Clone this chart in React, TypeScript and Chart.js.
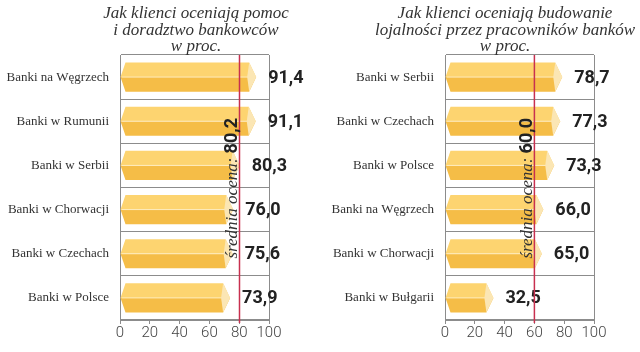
import React, { useEffect, useRef } from "react";
import { Chart, registerables } from "chart.js";

Chart.register(...registerables);

const leftTitle = ["Jak klienci oceniają pomoc", "i doradztwo bankowców", "w proc."];
const leftCategories = [
  "Banki na Węgrzech",
  "Banki w Rumunii",
  "Banki w Serbii",
  "Banki w Chorwacji",
  "Banki w Czechach",
  "Banki w Polsce",
];
const leftValues = [91.4, 91.1, 80.3, 76.0, 75.6, 73.9];
const leftAverage = 80.2;

const rightTitle = ["Jak klienci oceniają budowanie", "lojalności przez pracowników banków", "w proc."];
const rightCategories = [
  "Banki w Serbii",
  "Banki w Czechach",
  "Banki w Polsce",
  "Banki na Węgrzech",
  "Banki w Chorwacji",
  "Banki w Bułgarii",
];
const rightValues = [78.7, 77.3, 73.3, 66.0, 65.0, 32.5];
const rightAverage = 60.0;

const xMin = 0;
const xMax = 100;
const xStep = 20;
const averageLabel = "średnia ocena: ";

const fmt = (v: number) => v.toFixed(1).replace(".", ",");

const GRID = "#8c8c8c";

function makePlugin(avg: number, titleLines: string[], titleCenter: number) {
  return {
    id: "prism",
    afterDatasetsDraw(chart: any) {
      const ctx = chart.ctx as CanvasRenderingContext2D;
      const meta = chart.getDatasetMeta(0);
      const ds = chart.data.datasets[0].data as number[];
      const area = chart.chartArea;
      ctx.save();
      meta.data.forEach((el: any, i: number) => {
        const { x, y, base, height } = el.getProps(["x", "y", "base", "height"], true);
        const left = base;
        const right = x;
        const h = height;
        const top = y - h / 2;
        const bot = y + h / 2;
        const dl = 5;
        const dr = 7;
        ctx.beginPath();
        ctx.moveTo(left, y);
        ctx.lineTo(left + dl, top);
        ctx.lineTo(right - dr, top);
        ctx.lineTo(right, y);
        ctx.closePath();
        ctx.fillStyle = "#fdd470";
        ctx.fill();
        ctx.beginPath();
        ctx.moveTo(left, y);
        ctx.lineTo(right, y);
        ctx.lineTo(right - dr, bot);
        ctx.lineTo(left + dl, bot);
        ctx.closePath();
        ctx.fillStyle = "#f5bd47";
        ctx.fill();
        ctx.beginPath();
        ctx.moveTo(left + 1, y);
        ctx.lineTo(right - 1, y);
        ctx.strokeStyle = "rgba(255,240,200,0.9)";
        ctx.lineWidth = 1;
        ctx.stroke();
        ctx.beginPath();
        ctx.moveTo(right - dr, top);
        ctx.lineTo(right, y);
        ctx.lineTo(right - dr, bot);
        ctx.lineTo(right - dr - 2, y);
        ctx.closePath();
        ctx.fillStyle = "#fbe6b4";
        ctx.fill();
        ctx.fillStyle = "#222";
        ctx.font = "bold 18px Roboto";
        ctx.textAlign = "left";
        ctx.textBaseline = "middle";
        ctx.fillText(fmt(ds[i]), right + 12, y + 1);
      });

      const ax = chart.scales.x.getPixelForValue(avg);
      ctx.beginPath();
      ctx.moveTo(ax, area.top);
      ctx.lineTo(ax, area.bottom + 3);
      ctx.strokeStyle = "#c8304f";
      ctx.lineWidth = 1.5;
      ctx.stroke();

      ctx.save();
      ctx.font = "italic 17px 'Liberation Serif'";
      const w1 = ctx.measureText(averageLabel).width;
      ctx.font = "bold 18px Roboto";
      const w2 = ctx.measureText(fmt(avg)).width;
      const topEnd = area.top + 63;
      const startY = topEnd + w1 + w2;
      ctx.translate(ax - 2, startY);
      ctx.rotate(-Math.PI / 2);
      ctx.textAlign = "left";
      ctx.textBaseline = "alphabetic";
      ctx.font = "italic 17px 'Liberation Serif'";
      ctx.fillStyle = "#333";
      ctx.fillText(averageLabel, 0, 0);
      ctx.font = "bold 18px Roboto";
      ctx.fillStyle = "#222";
      ctx.fillText(fmt(avg), w1, 0);
      ctx.restore();

      ctx.font = "italic 17px 'Liberation Serif'";
      ctx.fillStyle = "#333";
      ctx.textAlign = "center";
      ctx.textBaseline = "alphabetic";
      const baselines = [18, 35, 51];
      titleLines.forEach((t, k) => ctx.fillText(t, titleCenter, baselines[k]));
      ctx.restore();
    },
  };
}

function BarPanel(props: {
  categories: string[];
  values: number[];
  avg: number;
  title: string[];
  axisWidth: number;
  padRight: number;
  titleCenter: number;
}) {
  const ref = useRef<HTMLCanvasElement | null>(null);
  useEffect(() => {
    if (!ref.current) return;
    const chart = new Chart(ref.current, {
      type: "bar",
      data: {
        labels: props.categories,
        datasets: [
          {
            data: props.values,
            backgroundColor: "rgba(0,0,0,0)",
            borderWidth: 0,
            categoryPercentage: 1,
            barPercentage: 0.66,
          },
        ],
      },
      options: {
        indexAxis: "y",
        responsive: false,
        animation: false,
        devicePixelRatio: 1,
        layout: { padding: { top: 55, left: 0, right: props.padRight, bottom: 0 } },
        plugins: {
          legend: { display: false },
          tooltip: { enabled: false },
          title: { display: false },
        },
        scales: {
          x: {
            type: "linear",
            min: xMin,
            max: xMax,
            ticks: {
              stepSize: xStep,
              color: "#444",
              font: { family: "Roboto", size: 15, weight: "300" },
              padding: 0,
              maxRotation: 0,
              minRotation: 0,
              autoSkip: false,
            },
            grid: {
              color: (c: any) =>
                c.tick && (c.tick.value === xMin || c.tick.value === xMax) ? GRID : "rgba(0,0,0,0)",
              tickColor: GRID,
              tickLength: 4,
              drawOnChartArea: true,
            },
            border: { display: true, color: GRID },
            afterFit: (s: any) => {
              s.height = 32;
            },
          },
          y: {
            type: "category",
            grid: { offset: true, color: GRID, drawTicks: false, lineWidth: 1 },
            border: { display: true, color: GRID },
            ticks: {
              color: "#333",
              font: { family: "Liberation Serif", size: 13 },
              padding: 11,
              autoSkip: false,
            },
            afterFit: (s: any) => {
              s.width = props.axisWidth;
            },
          },
        },
      },
      plugins: [makePlugin(props.avg, props.title, props.titleCenter)],
    } as any);
    return () => chart.destroy();
  }, []);
  return <canvas ref={ref} width={320} height={352} style={{ display: "block", width: 320, height: 352 }} />;
}

export default function App() {
  return (
    <div style={{ position: "fixed", left: 0, top: 0, width: 640, height: 352, background: "#fff", display: "flex" }}>
      <BarPanel
        categories={leftCategories}
        values={leftValues}
        avg={leftAverage}
        title={leftTitle}
        axisWidth={120}
        padRight={51}
        titleCenter={196}
      />
      <BarPanel
        categories={rightCategories}
        values={rightValues}
        avg={rightAverage}
        title={rightTitle}
        axisWidth={125}
        padRight={46}
        titleCenter={185}
      />
    </div>
  );
}
